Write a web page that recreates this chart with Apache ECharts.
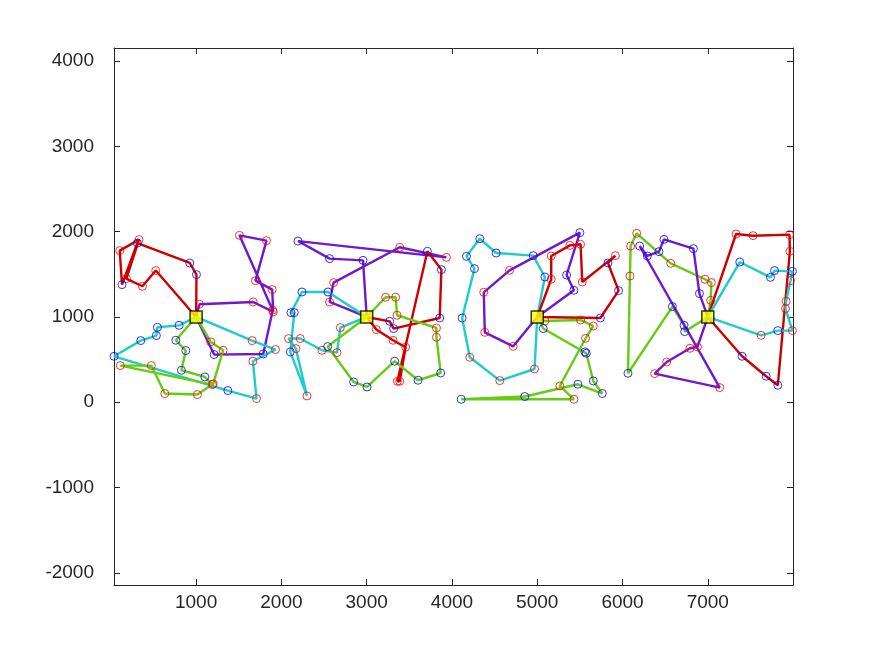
<!DOCTYPE html>
<html>
<head>
<meta charset="utf-8">
<script src="https://cdn.jsdelivr.net/npm/echarts@6/dist/echarts.min.js"></script>
<style>
  html, body { margin: 0; padding: 0; background: #fff; }
  #chart { width: 875px; height: 656px; }
</style>
</head>
<body>
<div id="chart"></div>
<script>
// depots (yellow squares)
const depots = [[1000, 1000], [3000, 1000], [5000, 1000], [7000, 1000]]

// customers per route: [x, y, kind]  kind 'b' = blue circle, 'r' = red circle
// depot 1
const d1Red = [[1004, 1497, 'b'], [926, 1633, 'b'], [311, 1867, 'b'], [131, 1379, 'b'], [104, 1778, 'r'], [331, 1907, 'r'], [182, 1450, 'r'], [370, 1360, 'r'], [527, 1544, 'r']]
const d1Purple = [[1039, 1149, 'r'], [1669, 1176, 'r'], [1904, 1059, 'r'], [1892, 1321, 'r'], [1696, 1426, 'r'], [1825, 1895, 'r'], [1508, 1957, 'r'], [1898, 1080, 'r'], [1787, 566, 'b'], [1211, 559, 'b']]
const d1Cyan = [[1657, 723, 'r'], [1931, 618, 'r'], [1666, 481, 'r'], [1708, 43, 'r'], [1372, 137, 'b'], [37, 539, 'b'], [351, 723, 'b'], [534, 782, 'b'], [546, 879, 'b'], [800, 902, 'b']]
const d1Green = [[762, 727, 'b'], [879, 606, 'b'], [827, 375, 'b'], [1102, 297, 'b'], [1191, 207, 'r'], [111, 430, 'r'], [475, 430, 'r'], [633, 102, 'r'], [1015, 90, 'r'], [1200, 215, 'r'], [1317, 609, 'r'], [1172, 707, 'r']]
// depot 2
const d2Purple = [[2957, 1664, 'b'], [2565, 1684, 'b'], [2194, 1890, 'b'], [3935, 1699, 'r'], [3387, 1817, 'r'], [2612, 1403, 'r'], [2565, 1176, 'r']]
const d2Red = [[3270, 949, 'b'], [3316, 864, 'b'], [3856, 988, 'b'], [3876, 1555, 'b'], [3712, 1770, 'b'], [3360, 246, 'r'], [3387, 246, 'r'], [3457, 645, 'r'], [3309, 727, 'r'], [3113, 852, 'r']]
const d2Cyan = [[2546, 1293, 'b'], [2241, 1293, 'b'], [2112, 1051, 'b'], [2151, 1051, 'b'], [2104, 590, 'b'], [2300, 74, 'r'], [2170, 629, 'r'], [2084, 747, 'r'], [2221, 747, 'r'], [2476, 609, 'r'], [2652, 582, 'r'], [2691, 875, 'r']]
const d2Green = [[3222, 1231, 'r'], [3340, 1231, 'r'], [3356, 1020, 'r'], [3818, 871, 'r'], [3818, 762, 'r'], [3868, 343, 'b'], [3603, 258, 'b'], [3328, 481, 'b'], [3004, 179, 'b'], [2847, 238, 'b'], [2542, 653, 'b']]
// depot 3
const d3Cyan = [[5089, 1469, 'b'], [4953, 1719, 'b'], [4518, 1750, 'b'], [4326, 1918, 'b'], [4170, 1711, 'b'], [4264, 1567, 'b'], [4119, 988, 'b'], [4209, 527, 'r'], [4561, 254, 'r'], [4968, 390, 'r']]
const d3Purple = [[4718, 656, 'r'], [4385, 820, 'r'], [4373, 1289, 'r'], [4675, 1547, 'r'], [5500, 1989, 'b'], [5344, 1492, 'b'], [5430, 1313, 'b']]
const d3Red = [[5164, 1442, 'r'], [5164, 1715, 'r'], [5383, 1840, 'r'], [5508, 1852, 'r'], [5528, 1410, 'r'], [5916, 1719, 'r'], [5829, 1633, 'b'], [5954, 1309, 'b'], [5740, 988, 'b']]
const d3Green = [[5089, 953, 'r'], [5508, 965, 'r'], [5657, 894, 'r'], [5567, 750, 'r'], [5265, 191, 'r'], [5430, 35, 'r'], [4108, 35, 'b'], [4854, 67, 'b'], [5477, 211, 'b'], [5763, 102, 'b'], [5657, 250, 'b'], [5575, 574, 'b'], [5559, 590, 'b'], [5070, 864, 'b']]
// depot 4
const d4Green = [[7034, 1195, 'r'], [7042, 1403, 'r'], [6967, 1442, 'r'], [6565, 1629, 'r'], [6166, 1981, 'r'], [6095, 1832, 'r'], [6087, 1480, 'r'], [6064, 340, 'b'], [6585, 1122, 'b'], [6721, 902, 'b'], [6729, 828, 'b']]
const d4Purple = [[6902, 1274, 'b'], [6831, 1801, 'b'], [6486, 1910, 'b'], [6427, 1766, 'b'], [6291, 1715, 'b'], [6201, 1832, 'b'], [7140, 172, 'r'], [6377, 336, 'r'], [6518, 472, 'r'], [6791, 633, 'r'], [6878, 648, 'r']]
const d4Red = [[7331, 1973, 'r'], [7531, 1953, 'r'], [7958, 1965, 'r'], [7962, 1770, 'r'], [7821, 199, 'b'], [7684, 305, 'b'], [7402, 539, 'b']]
const d4Cyan = [[7375, 1644, 'b'], [7735, 1465, 'b'], [7782, 1544, 'b'], [7992, 1535, 'b'], [7970, 1426, 'r'], [7918, 1184, 'r'], [7911, 1098, 'r'], [7992, 840, 'r'], [7821, 840, 'b'], [7625, 785, 'r']]

const xTicks = [1000, 2000, 3000, 4000, 5000, 6000, 7000]
const yTicks = [-2000, -1000, 0, 1000, 2000, 3000, 4000]

const routeColors = {
  red: '#cc0000',
  purple: '#7018cc',
  cyan: '#1fcccc',
  green: '#66cc11'
}

const routes = [
  { depot: 0, color: 'red', pts: d1Red },
  { depot: 0, color: 'purple', pts: d1Purple },
  { depot: 0, color: 'cyan', pts: d1Cyan },
  { depot: 0, color: 'green', pts: d1Green },
  { depot: 1, color: 'purple', pts: d2Purple },
  { depot: 1, color: 'red', pts: d2Red },
  { depot: 1, color: 'cyan', pts: d2Cyan },
  { depot: 1, color: 'green', pts: d2Green },
  { depot: 2, color: 'cyan', pts: d3Cyan },
  { depot: 2, color: 'purple', pts: d3Purple },
  { depot: 2, color: 'red', pts: d3Red },
  { depot: 2, color: 'green', pts: d3Green },
  { depot: 3, color: 'green', pts: d4Green },
  { depot: 3, color: 'purple', pts: d4Purple },
  { depot: 3, color: 'red', pts: d4Red },
  { depot: 3, color: 'cyan', pts: d4Cyan }
]

const series = []

routes.forEach(r => {
  const d = depots[r.depot]
  const path = [d].concat(r.pts.map(p => [p[0], p[1]])).concat([d])
  series.push({
    type: 'line',
    data: path,
    showSymbol: false,
    silent: true,
    z: 2,
    lineStyle: { color: routeColors[r.color], width: 2.4 }
  })
})

const allPts = routes.flatMap(r => r.pts)
const circle = (kind, color) => ({
  type: 'scatter',
  data: allPts.filter(p => p[2] === kind).map(p => [p[0], p[1]]),
  symbol: 'circle',
  symbolSize: 8,
  silent: true,
  z: 3,
  itemStyle: { color: 'rgba(0,0,0,0)', borderColor: color, borderWidth: 1 }
})
series.push(circle('r', '#ff0000'))
series.push(circle('b', '#0000ff'))

series.push({
  type: 'scatter',
  data: depots,
  symbol: 'rect',
  symbolSize: 12,
  silent: true,
  z: 5,
  itemStyle: { color: '#ffff00', borderColor: '#000', borderWidth: 1.5 }
})

const axisColor = '#262626'
const plain = v => String(v)
const xBase = {
  type: 'value',
  min: 37,
  max: 7999,
  splitLine: { show: false },
  axisLine: { show: true, onZero: false, lineStyle: { color: axisColor, width: 1 } },
  axisTick: { show: true, inside: true, length: 6, customValues: xTicks, lineStyle: { color: axisColor } }
}
const yBase = {
  type: 'value',
  min: -2143,
  max: 4154,
  splitLine: { show: false },
  axisLine: { show: true, onZero: false, lineStyle: { color: axisColor, width: 1 } },
  axisTick: { show: true, inside: true, length: 6, customValues: yTicks, lineStyle: { color: axisColor } }
}
const labelStyle = { color: axisColor, fontSize: 19, fontFamily: 'Liberation Sans, Arial, sans-serif', formatter: plain }

const chart = echarts.init(document.getElementById('chart'))
chart.setOption({
  animation: false,
  backgroundColor: '#fff',
  grid: { left: 114, right: 82, top: 48, bottom: 71 },
  xAxis: [
    Object.assign({}, xBase, { position: 'bottom', axisLabel: Object.assign({ customValues: xTicks, margin: 8 }, labelStyle) }),
    Object.assign({}, xBase, { position: 'top', axisLabel: { show: false } })
  ],
  yAxis: [
    Object.assign({}, yBase, { position: 'left', axisLabel: Object.assign({ customValues: yTicks, margin: 20 }, labelStyle) }),
    Object.assign({}, yBase, { position: 'right', axisLabel: { show: false } })
  ],
  series: series
})
</script>
</body>
</html>
